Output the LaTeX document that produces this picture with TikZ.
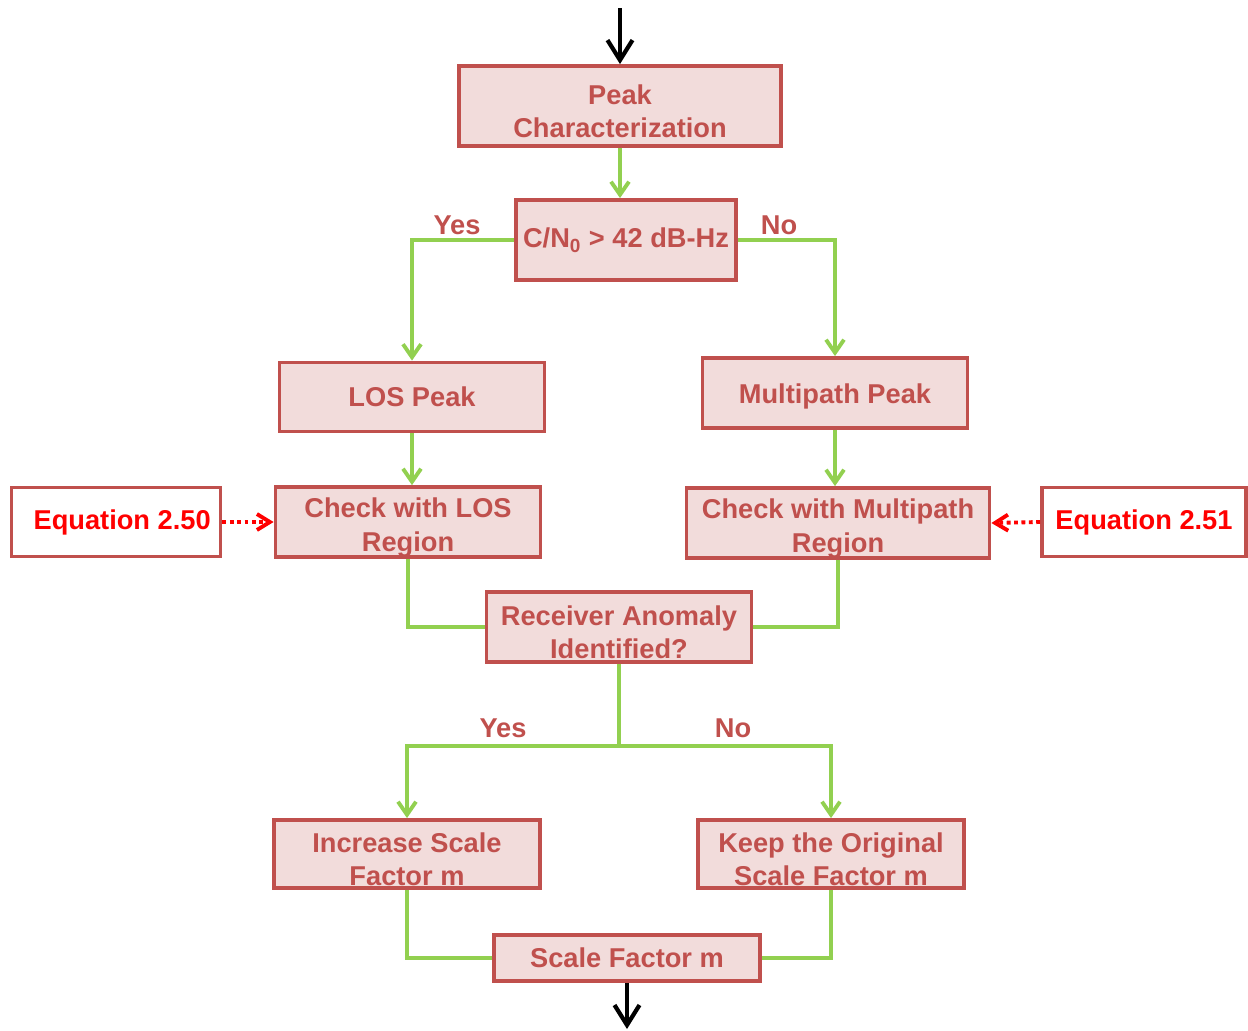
\documentclass[tikz,border=0pt]{standalone}
\usepackage{fontspec}
\setmainfont{Liberation Sans}
\usetikzlibrary{arrows.meta}
\definecolor{boxred}{HTML}{C0504D}
\definecolor{boxfill}{HTML}{F2DCDB}
\definecolor{flowgreen}{HTML}{92D050}
% taller first line pushes two-line labels a bit down in their boxes
\newcommand{\lowered}{\rule{0pt}{17.5pt}}
\tikzstyle{block} = [rectangle, minimum width=5.3cm, minimum height=1.4cm, align=center, inner sep=0pt, draw=boxred, line width=2.2pt, fill=boxfill, text=boxred, font=\bfseries\fontsize{15.5}{19}\selectfont]
\tikzstyle{eqblock} = [rectangle, minimum width=4.18cm, minimum height=1.38cm, inner sep=0pt, draw=boxred, line width=2.2pt, fill=white, text=red, font=\bfseries\fontsize{15.5}{19}\selectfont]
\tikzstyle{answer} = [text=boxred, font=\bfseries\fontsize{15.5}{19}\selectfont]
\tikzstyle{line} = [flowgreen, line width=2.2pt]
\tikzstyle{arrow} = [line, -{Straight Barb[length=0.26cm, width=0.36cm]}]
\tikzstyle{dotarrow} = [red, line width=2.2pt, dash pattern=on 2.2pt off 2pt, -{Straight Barb[length=0.26cm, width=0.32cm]}]
\tikzstyle{flow} = [black, line width=2.4pt, -{Straight Barb[length=0.4cm, width=0.5cm]}]

\begin{document}
\begin{tikzpicture}[x=0.02cm, y=-0.02cm]

	\useasboundingbox (0,0) rectangle (1248,1031);

	\node (peakChar) [block, minimum width=6.44cm, minimum height=1.6cm] at (620,106) {\lowered Peak\\Characterization};

	\node (cnoTest) [block, minimum width=4.4cm, minimum height=1.6cm] at (626,240) {C/N\textsubscript{0} > 42 dB-Hz};

	\node (losPeak) [block, minimum height=1.38cm] at (412,397) {LOS Peak};

	\node (mpPeak) [block] at (835,393) {\rule{0pt}{15pt}Multipath Peak};

	\node (checkLos) [block, minimum height=1.38cm] at (408,522) {\lowered Check with LOS\\Region};

	\node (checkMp) [block, minimum width=6.06cm, minimum height=1.38cm] at (838,523) {\lowered Check with Multipath\\Region};

	\node (eqLos) [eqblock] at (116,522) {\hspace{7pt}Equation 2.50};

	\node (eqMp) [eqblock, minimum width=4.08cm] at (1144,522) {Equation 2.51};

	\node (rxAnomaly) [block] at (619,627) {\lowered Receiver Anomaly\\Identified?};

	\node (incScale) [block, minimum width=5.32cm, minimum height=1.36cm] at (407,854) {\lowered Increase Scale\\Factor m};

	\node (keepScale) [block, minimum width=5.32cm, minimum height=1.36cm] at (831,854) {\lowered Keep the Original\\Scale Factor m};

	\node (scaleFactor) [block, minimum width=5.32cm, minimum height=0.92cm] at (627,958) {Scale Factor m};

	\node (yesTop) [answer] at (457,225) {Yes};
	\node (noTop) [answer] at (779,225) {No};
	\node (yesBot) [answer] at (503,728) {Yes};
	\node (noBot) [answer] at (733,728) {No};

	\coordinate (start) at (620,8);
	\coordinate (split) at (619,746);
	\coordinate (finish) at (627,1029);



	\draw [flow] (start) -- (peakChar.north);
	\draw [arrow] (peakChar.south) -- (peakChar.south |- cnoTest.north);

	\draw [arrow] (cnoTest.west) -| (losPeak.north);
	\draw [arrow] (cnoTest.east) -| (mpPeak.north);

	\draw [arrow] (losPeak.south) -- (losPeak.south |- checkLos.north);
	\draw [arrow] (mpPeak.south) -- (mpPeak.south |- checkMp.north);

	\draw [dotarrow] (eqLos.east) -- (checkLos.west);
	\draw [dotarrow] (eqMp.west) -- (checkMp.east);

	\draw [line] (checkLos.south) |- (rxAnomaly.west);
	\draw [line] (checkMp.south) |- (rxAnomaly.east);

	\draw [line] (rxAnomaly.south) -- (split);
	\draw [arrow] (split) -| (incScale.north);
	\draw [arrow] (split) -| (keepScale.north);

	\draw [line] (incScale.south) |- (scaleFactor.west);
	\draw [line] (keepScale.south) |- (scaleFactor.east);
	\draw [flow] (scaleFactor.south) -- (finish);

	\end{tikzpicture}
\end{document}
